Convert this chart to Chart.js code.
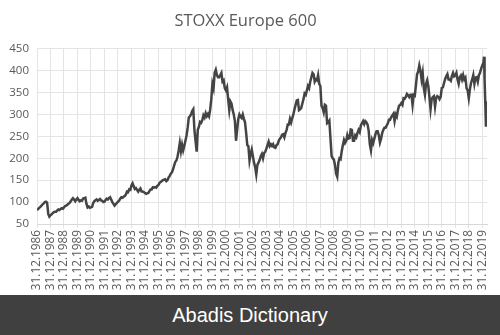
<!DOCTYPE html>
<html>
<head>
<meta charset="utf-8">
<script src="https://cdn.jsdelivr.net/npm/chart.js@4.4.1/dist/chart.umd.min.js"></script>
<style>
  body { margin: 0; width: 500px; height: 335px; overflow: hidden; background: #fff; }
  #wrap { position: relative; width: 500px; height: 295px; }
  #banner {
    height: 40px; background: #404040; color: #fff; text-align: center;
    font: 20px "Liberation Sans", Arial, sans-serif; line-height: 40px;
  }
</style>
</head>
<body>
<div id="wrap"><canvas id="stoxx-chart"></canvas></div>
<div id="banner">Abadis Dictionary</div>
<script>
// month-end closes, first value is 31.12.1986, then Jan..Dec of each year
const firstYear = 1986;
const monthlyClose = [
  82,
  84, 87, 89, 92, 95, 97, 100, 101, 99, 73, 67, 70,            // 1987
  72, 75, 77, 78, 78, 81, 83, 82, 84, 86, 85, 88,              // 1988
  91, 92, 94, 96, 98, 102, 106, 109, 106, 102, 106, 109,       // 1989
  105, 102, 104, 103, 108, 109, 110, 96, 88, 90, 87, 88,       // 1990
  89, 98, 102, 104, 106, 103, 105, 107, 104, 103, 100, 101,    // 1991
  105, 108, 106, 109, 111, 106, 100, 96, 92, 95, 98, 101,      // 1992
  103, 108, 111, 110, 112, 114, 117, 124, 123, 129, 128, 138,  // 1993
  143, 136, 130, 132, 128, 124, 128, 131, 124, 124, 123, 121,  // 1994
  119, 120, 121, 125, 129, 129, 134, 133, 134, 133, 137, 139,  // 1995
  144, 146, 148, 150, 151, 152, 148, 150, 156, 160, 165, 168,  // 1996
  175, 184, 192, 195, 204, 218, 235, 216, 231, 218, 228, 240,  // 1997
  252, 270, 293, 296, 300, 308, 312, 265, 240, 215, 265, 272,  // 1998
  283, 281, 287, 298, 293, 303, 296, 301, 296, 311, 335, 370,  // 1999
  360, 395, 402, 390, 385, 385, 390, 395, 375, 378, 360, 355,  // 2000
  362, 335, 310, 330, 325, 310, 300, 285, 240, 265, 290, 300,  // 2001
  295, 292, 300, 290, 282, 258, 230, 228, 195, 210, 220, 205,  // 2002
  190, 180, 163, 185, 190, 196, 205, 210, 200, 212, 215, 222,  // 2003
  230, 238, 228, 232, 228, 232, 225, 224, 230, 232, 240, 245,  // 2004
  248, 254, 255, 248, 258, 265, 277, 277, 290, 282, 292, 300,  // 2005
  312, 322, 332, 333, 310, 312, 315, 325, 335, 348, 345, 355,  // 2006
  365, 360, 375, 385, 395, 392, 375, 380, 378, 390, 370, 365,  // 2007
  320, 315, 305, 322, 320, 280, 282, 286, 245, 205, 200, 197,  // 2008
  185, 165, 158, 190, 200, 198, 216, 230, 242, 235, 240, 253,  // 2009
  245, 246, 266, 265, 240, 240, 252, 248, 258, 265, 260, 275,  // 2010
  280, 285, 278, 285, 282, 277, 262, 232, 218, 242, 235, 245,  // 2011
  255, 262, 262, 252, 236, 245, 258, 265, 270, 270, 275, 280,  // 2012
  288, 288, 294, 298, 302, 285, 300, 295, 310, 320, 322, 326,  // 2013
  322, 337, 336, 340, 347, 344, 340, 345, 345, 322, 345, 343,  // 2014
  367, 392, 398, 412, 400, 380, 395, 360, 345, 370, 378, 365,  // 2015
  340, 312, 335, 340, 342, 318, 338, 342, 340, 335, 340, 361,  // 2016
  362, 372, 381, 387, 392, 380, 380, 377, 388, 395, 387, 389,  // 2017
  395, 380, 370, 385, 389, 380, 390, 380, 384, 360, 355, 337,  // 2018
  358, 372, 380, 390, 370, 384, 385, 375, 390, 395, 405, 412,  // 2019
  418                                                          // Jan 2020
];
// early 2020: peak and the covid drop (years after 31.12.1986)
const lateDates = [33.13, 33.17, 33.22, 33.27];
const lateClose = [432, 380, 330, 272];

const yTicks = [50, 450, 50]; // min, max, step

const points = monthlyClose.map((v, i) => ({ x: i / 12, y: v }));
lateDates.forEach((d, i) => points.push({ x: d, y: lateClose[i] }));

const fontFamily = '"Open Sans", "Noto Sans", sans-serif';
const ctx = document.getElementById('stoxx-chart').getContext('2d');

const chart = new Chart(ctx, {
    type: 'line',
    data: {
        datasets: [{
            label: 'STOXX Europe 600',
            data: points,
            borderColor: '#444444',
            borderWidth: 2.5,
            pointRadius: 0,
            tension: 0
        }]
    },
    options: {
        responsive: true,
        maintainAspectRatio: false,
        animation: false,
        layout: { padding: { left: 4, right: 13, top: 0, bottom: 0 } },
        plugins: {
            legend: { display: false },
            tooltip: { enabled: false },
            title: {
                display: true,
                text: 'STOXX Europe 600',
                color: '#595959',
                font: { family: fontFamily, size: 16.5, weight: 'normal' },
                padding: { top: 11, bottom: 18 }
            }
        },
        scales: {
            x: {
                type: 'linear',
                min: 0,
                max: 33.35,
                afterFit: (scale) => { scale.height = 71; },
                grid: { color: '#e4e4e4', tickLength: 4 },
                border: { color: '#d9d9d9' },
                ticks: {
                    stepSize: 1,
                    includeBounds: false,
                    autoSkip: false,
                    minRotation: 90,
                    maxRotation: 90,
                    color: '#595959',
                    padding: 2,
                    font: { family: fontFamily, size: 11.8 },
                    callback: (v) => Number.isInteger(v) ? '31.12.' + (firstYear + v) : ''
                }
            },
            y: {
                min: yTicks[0],
                max: yTicks[1],
                afterFit: (scale) => { scale.width = 33; },
                grid: { color: '#e4e4e4', drawTicks: false },
                border: { display: false },
                ticks: {
                    stepSize: yTicks[2],
                    color: '#595959',
                    padding: 8,
                    font: { family: fontFamily, size: 11.5 }
                }
            }
        }
    }
});
</script>
</body>
</html>
